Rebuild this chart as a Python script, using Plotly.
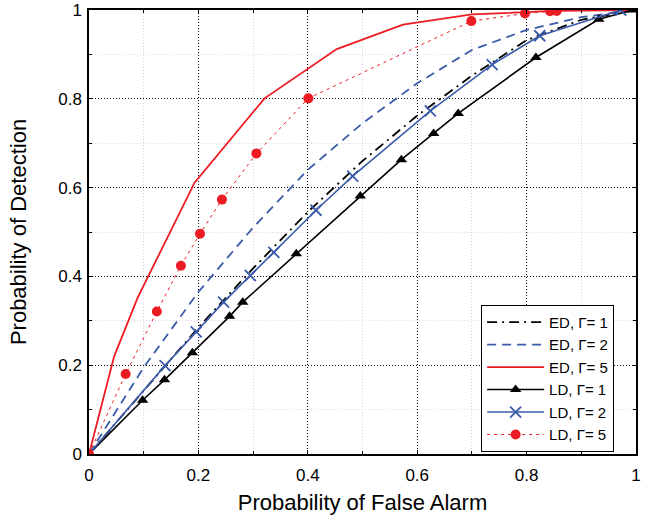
import plotly.graph_objects as go

# ---- data ----
ed1_x = [0, 0.1, 0.2, 0.3, 0.4, 0.5, 0.6, 0.7, 0.8, 0.9, 1.0]
ed1_y = [0, 0.142, 0.285, 0.418, 0.545, 0.66, 0.762, 0.852, 0.932, 0.978, 1.0]

ed2_x = [0, 0.1, 0.2, 0.3, 0.4, 0.5, 0.6, 0.7, 0.8, 0.9, 1.0]
ed2_y = [0, 0.195, 0.365, 0.51, 0.64, 0.745, 0.835, 0.91, 0.955, 0.984, 1.0]

ed5_x = [0, 0.046, 0.089, 0.193, 0.321, 0.453, 0.574, 0.70, 0.85, 1.0]
ed5_y = [0, 0.22, 0.352, 0.611, 0.801, 0.912, 0.967, 0.99, 0.998, 1.0]

ld1_x = [0, 0.098, 0.138, 0.189, 0.257, 0.281, 0.379, 0.496, 0.571, 0.63, 0.675, 0.817, 0.932, 0.994]
ld1_y = [0, 0.121, 0.167, 0.228, 0.31, 0.342, 0.451, 0.581, 0.663, 0.722, 0.767, 0.893, 0.979, 1.0]

ld2_x = [0, 0.139, 0.196, 0.246, 0.295, 0.338, 0.415, 0.482, 0.624, 0.737, 0.824, 0.972]
ld2_y = [0, 0.199, 0.275, 0.342, 0.402, 0.454, 0.549, 0.626, 0.773, 0.877, 0.942, 1.0]

ld5_x = [0, 0.067, 0.124, 0.168, 0.203, 0.243, 0.306, 0.401, 0.699, 0.797, 0.843, 0.855]
ld5_y = [0, 0.180, 0.321, 0.424, 0.496, 0.573, 0.677, 0.801, 0.975, 0.992, 0.997, 0.998]

tick_vals = [0, 0.2, 0.4, 0.6, 0.8, 1.0]
tick_text = ["0", "0.2", "0.4", "0.6", "0.8", "1"]

RED = "#ec1c24"
BLUE = "#3b5ba9"
BLACK = "#000000"
FONT = "Liberation Sans, Arial, Helvetica, sans-serif"

fig = go.Figure()
fig.add_trace(go.Scatter(x=ed1_x, y=ed1_y, mode="lines", name="ED, Γ= 1",
                         line=dict(color=BLACK, width=1.8, dash="10px,5px,2px,5px")))
fig.add_trace(go.Scatter(x=ed2_x, y=ed2_y, mode="lines", name="ED, Γ= 2",
                         line=dict(color=BLUE, width=1.8, dash="9px,6px")))
fig.add_trace(go.Scatter(x=ed5_x, y=ed5_y, mode="lines", name="ED, Γ= 5",
                         line=dict(color=RED, width=1.8)))
fig.add_trace(go.Scatter(x=ld1_x, y=ld1_y, mode="lines+markers", name="LD, Γ= 1",
                         line=dict(color=BLACK, width=1.6),
                         marker=dict(symbol="triangle-up", size=10, color=BLACK)))
fig.add_trace(go.Scatter(x=ld2_x, y=ld2_y, mode="lines+markers", name="LD, Γ= 2",
                         line=dict(color=BLUE, width=1.6),
                         marker=dict(symbol="x-thin", size=11, color=BLUE,
                                     line=dict(color=BLUE, width=1.8))))
fig.add_trace(go.Scatter(x=ld5_x, y=ld5_y, mode="lines+markers", name="LD, Γ= 5",
                         line=dict(color=RED, width=1, dash="3px,4px"),
                         marker=dict(symbol="circle", size=10, color=RED)))

axis_common = dict(
    range=[0, 1],
    tickvals=tick_vals,
    ticktext=tick_text,
    ticks="inside",
    ticklen=4,
    tickcolor=BLACK,
    showline=True,
    linecolor=BLACK,
    linewidth=1.5,
    mirror="ticks",
    showgrid=True,
    gridcolor=BLACK,
    griddash="1px,2px",
    gridwidth=1,
    zeroline=False,
    automargin=False,
    ticklabeloverflow="allow",
    tickfont=dict(size=17, color=BLACK, family=FONT),
    minor=dict(dtick=0.1, ticks="inside", ticklen=3, tickcolor=BLACK,
               showgrid=True, gridcolor="#e3cfe3", gridwidth=1),
)

fig.update_xaxes(**axis_common, ticklabelstandoff=5,
                 title=dict(text="Probability of False Alarm", font=dict(size=22, color=BLACK, family=FONT),
                            standoff=10))
fig.update_yaxes(**axis_common, ticklabelstandoff=2,
                 title=dict(text="Probability of Detection", font=dict(size=22, color=BLACK, family=FONT),
                            standoff=26))

fig.update_layout(
    width=653, height=520,
    margin=dict(l=89, r=17, t=10, b=66),
    paper_bgcolor="white",
    plot_bgcolor="white",
    showlegend=True,
    hovermode=False,
    legend=dict(x=0.96, y=0.005, xanchor="right", yanchor="bottom",
                bgcolor="white", bordercolor=BLACK, borderwidth=1,
                font=dict(size=15, color=BLACK, family=FONT),
                tracegroupgap=0, itemwidth=57),
    font=dict(family=FONT, color=BLACK),
)

fig.write_html("out.html",
               config={"displayModeBar": False},
               post_script="document.body.style.margin='0';document.body.style.overflow='hidden';")
